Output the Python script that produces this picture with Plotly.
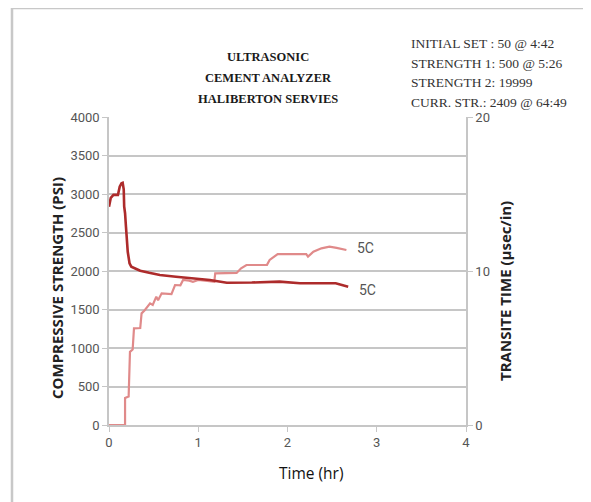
import plotly.graph_objects as go

# Compressive strength (PSI) vs time (hr)
t_strength = [0, 0.18, 0.18, 0.22, 0.235, 0.265, 0.28, 0.35, 0.365, 0.40, 0.46, 0.49, 0.53, 0.55, 0.59,
              0.70, 0.74, 0.80, 0.83, 0.90, 0.94, 1.00, 1.10, 1.18, 1.19, 1.30, 1.43, 1.48, 1.54, 1.70,
              1.77, 1.80, 1.89, 2.00, 2.21, 2.23, 2.29, 2.38, 2.47, 2.55, 2.66]
strength = [0, 0, 350, 370, 950, 980, 1255, 1260, 1450, 1490, 1580, 1560, 1667, 1620, 1710,
            1700, 1818, 1815, 1883, 1875, 1860, 1883, 1870, 1860, 1970, 1975, 1975, 2035, 2078, 2078,
            2080, 2143, 2220, 2220, 2220, 2186, 2250, 2294, 2316, 2300, 2273]

# Transit time (usec/in) vs time (hr)
t_transit = [0, 0.02, 0.05, 0.10, 0.12, 0.14, 0.153, 0.165, 0.17, 0.18, 0.19, 0.20, 0.21, 0.23, 0.25,
             0.30, 0.35, 0.45, 0.57, 0.75, 0.94, 1.13, 1.32, 1.60, 1.91, 2.14, 2.54, 2.68]
transit = [14.18, 14.75, 14.94, 14.94, 15.48, 15.70, 15.73, 15.3, 14.2, 13.75, 12.88, 12.0, 11.25, 10.5, 10.28,
           10.15, 10.02, 9.88, 9.74, 9.63, 9.53, 9.42, 9.24, 9.25, 9.31, 9.20, 9.20, 8.98]

x_ticks = [0, 1, 2, 3, 4]
y_ticks = [0, 500, 1000, 1500, 2000, 2500, 3000, 3500, 4000]
y2_ticks = [0, 10, 20]

title_lines = ["ULTRASONIC", "CEMENT ANALYZER", "HALIBERTON SERVIES"]
info_lines = ["INITIAL SET : 50 @ 4:42", "STRENGTH 1: 500 @ 5:26", "STRENGTH 2: 19999", "CURR. STR.: 2409 @ 64:49"]
series_labels = ["5C", "5C"]

OFF = 8  # page body margin
W, H = 591 - OFF, 502 - OFF
L, R, T, B = 109 - OFF, 466 - OFF, 117 - OFF, 425 - OFF

def px(x):
    # window pixel -> paper x
    return (x - OFF - L) / (R - L)

def py(y):
    return (B - (y - OFF)) / (B - T)

PINK = "#e08a8a"
DARK = "#ad2b2b"
GRID = "#c6c6c6"
TICKC = "#555555"
tickfont = dict(family="Liberation Sans Narrow, Roboto, sans-serif", size=13, color=TICKC)

fig = go.Figure()
fig.add_trace(go.Scatter(x=t_strength, y=strength, mode="lines", line=dict(color=PINK, width=2.2),
                         showlegend=False, yaxis="y"))
fig.add_trace(go.Scatter(x=t_transit, y=transit, mode="lines", line=dict(color=DARK, width=2.6),
                         showlegend=False, yaxis="y2"))

fig.update_layout(
    width=W, height=H,
    margin=dict(l=L, r=W - R, t=T, b=H - B, pad=0),
    paper_bgcolor="white", plot_bgcolor="white",
    xaxis=dict(range=[0, 4], tickvals=x_ticks, showgrid=False, zeroline=False,
               showline=True, linecolor=GRID, linewidth=1.5,
               ticks="outside", ticklen=5, tickcolor=GRID, tickfont=tickfont),
    yaxis=dict(range=[0, 4000], tickvals=y_ticks, showgrid=True, gridcolor=GRID, gridwidth=1.5,
               zeroline=False, showline=True, linecolor=GRID, linewidth=1.5,
               ticks="outside", ticklen=5, tickcolor=GRID, tickfont=tickfont),
    yaxis2=dict(range=[0, 20], tickvals=y2_ticks, overlaying="y", side="right", showgrid=False,
                zeroline=False, showline=True, linecolor=GRID, linewidth=1.5,
                ticks="outside", ticklen=5, tickcolor=GRID, tickfont=tickfont),
)

ann = []
for s, yy in zip(title_lines, [57, 78, 99]):
    ann.append(dict(text="<b>%s</b>" % s, x=px(268), y=py(yy),
                    xref="paper", yref="paper", showarrow=False, xanchor="center", yanchor="middle",
                    font=dict(family="Liberation Serif, serif", size=12.5, color="#1a1a1a")))
for s, yy in zip(info_lines, [43, 63, 82, 102]):
    ann.append(dict(text=s, x=px(409), y=py(yy),
                    xref="paper", yref="paper", showarrow=False, xanchor="left", yanchor="middle",
                    font=dict(family="Liberation Serif, serif", size=13.5, color="#333")))
ann.append(dict(text="<b>COMPRESSIVE STRENGTH (PSI)</b>", x=px(57), y=py(288), textangle=-90,
                xref="paper", yref="paper", showarrow=False, xanchor="center", yanchor="middle",
                font=dict(family="Open Sans, sans-serif", size=15, color="#222")))
ann.append(dict(text="<b>TRANSITE TIME (µsec/in)</b>", x=px(505), y=py(291), textangle=-90,
                xref="paper", yref="paper", showarrow=False, xanchor="center", yanchor="middle",
                font=dict(family="Open Sans, sans-serif", size=15, color="#222")))
ann.append(dict(text="Time (hr)", x=px(311), y=py(473),
                xref="paper", yref="paper", showarrow=False, xanchor="center", yanchor="middle",
                font=dict(family="Open Sans, sans-serif", size=15.5, color="#111")))
ann.append(dict(text=series_labels[0], x=t_strength[-1], y=strength[-1], xref="x", yref="y",
                showarrow=False, xanchor="left", yanchor="middle", xshift=9, yshift=2,
                font=dict(family="Liberation Sans Narrow, Roboto, sans-serif", size=14, color=TICKC)))
ann.append(dict(text=series_labels[1], x=t_transit[-1], y=transit[-1], xref="x", yref="y2",
                showarrow=False, xanchor="left", yanchor="middle", xshift=9, yshift=-3,
                font=dict(family="Liberation Sans Narrow, Roboto, sans-serif", size=14, color=TICKC)))
fig.update_layout(annotations=ann)

# outer frame (left and top edges)
fig.add_shape(type="line", xref="paper", yref="paper", x0=px(12), x1=px(12), y0=py(502), y1=py(8),
              line=dict(color="#c8c8c8", width=2.5))
fig.add_shape(type="line", xref="paper", yref="paper", x0=px(12), x1=px(591), y0=py(8), y1=py(8),
              line=dict(color="#c8c8c8", width=2.5))

fig.write_html("out.html")
